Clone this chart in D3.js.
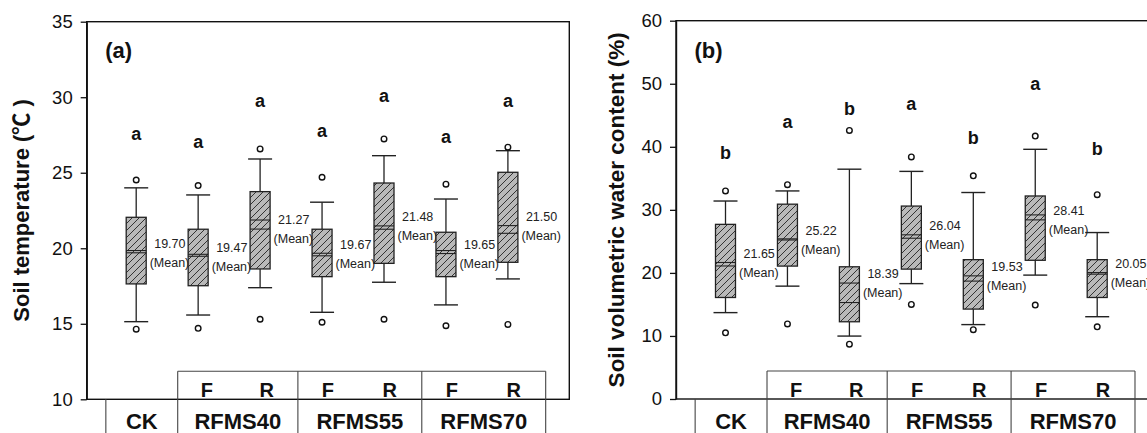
<!DOCTYPE html>
<html>
<head>
<meta charset="utf-8">
<script src="https://cdn.jsdelivr.net/npm/d3@7"></script>
<style>
  html, body { margin: 0; padding: 0; background: #fff; }
  svg { display: block; }
</style>
</head>
<body>
<svg id="chart" width="1147" height="433"></svg>
<script>
// ---- categories ----
const groups = ["CK", "F40", "R40", "F55", "R55", "F70", "R70"];
const treatments = ["CK", "RFMS40", "RFMS55", "RFMS70"];
const sides = ["F", "R"];

// ---- (a) soil temperature (°C) ----
const tempWhiskerLow  = [15.14, 15.58, 17.39, 15.76, 17.75, 16.25, 17.97];
const tempQ1          = [17.64, 17.52, 18.63, 18.12, 19.00, 18.12, 19.07];
const tempMedian      = [19.85, 19.60, 21.87, 19.50, 21.26, 19.85, 20.99];
const tempMean        = [19.70, 19.47, 21.27, 19.67, 21.48, 19.65, 21.50];
const tempQ3          = [22.05, 21.26, 23.75, 21.26, 24.32, 21.06, 25.03];
const tempWhiskerHigh = [24.00, 23.53, 25.91, 23.05, 26.13, 23.26, 26.46];
const tempOutlierLow  = [14.64, 14.70, 15.30, 15.10, 15.30, 14.87, 14.96];
const tempOutlierHigh = [24.52, 24.15, 26.58, 24.70, 27.24, 24.24, 26.69];
const tempLetters     = ["a", "a", "a", "a", "a", "a", "a"];
const tempLetterAt    = [27.5, 27.0, 29.7, 27.7, 30.0, 27.3, 29.7];
const tempTicks       = [10, 15, 20, 25, 30, 35];

// ---- (b) soil volumetric water content (%) ----
const swcWhiskerLow  = [13.7, 17.9, 9.98, 18.3, 11.8, 19.65, 13.05];
const swcQ1          = [16.1, 21.08, 12.25, 20.6, 14.26, 22.0, 16.1];
const swcMedian      = [21.1, 25.4, 15.3, 25.5, 18.7, 29.2, 19.8];
const swcMean        = [21.65, 25.22, 18.39, 26.04, 19.53, 28.41, 20.05];
const swcQ3          = [27.7, 30.9, 20.97, 30.6, 22.1, 32.2, 22.1];
const swcWhiskerHigh = [31.4, 33.0, 36.45, 36.1, 32.75, 39.6, 26.4];
const swcOutlierLow  = [10.5, 11.9, 8.7, 15.0, 11.0, 14.9, 11.45];
const swcOutlierHigh = [33.0, 34.0, 42.6, 38.4, 35.4, 41.7, 32.4];
const swcLetters     = ["b", "a", "b", "a", "b", "a", "b"];
const swcLetterAt    = [38.9, 43.7, 45.8, 46.7, 41.3, 49.8, 39.5];
const swcTicks       = [0, 10, 20, 30, 40, 50, 60];

const FONT = "'Liberation Sans', Arial, Helvetica, sans-serif";
const svg = d3.select("#chart");

// diagonal hatch fill for the boxes
const defs = svg.append("defs");
const pat = defs.append("pattern")
  .attr("id", "hatch")
  .attr("patternUnits", "userSpaceOnUse")
  .attr("width", 7).attr("height", 7);
pat.append("rect").attr("width", 7).attr("height", 7).attr("fill", "#b9b9b9");
pat.append("path")
  .attr("d", "M0,7 L7,0 M-2,2 L2,-2 M5,9 L9,5")
  .attr("stroke", "#333").attr("stroke-width", 1);

function drawPanel(cfg) {
  const g = svg.append("g");
  const frameW = 482.6;
  const x0 = cfg.x0;

  const y = d3.scaleLinear().domain(cfg.domain).range([cfg.yBottom, cfg.yTop]);
  const x = d3.scalePoint().domain(groups).range([x0 + 49.5, x0 + 49.5 + 6 * 61.95]);
  const step = x.step();

  // frame
  g.append("rect")
    .attr("x", x0).attr("y", cfg.yTop)
    .attr("width", frameW).attr("height", cfg.yBottom - cfg.yTop)
    .attr("fill", "none").attr("stroke", "#111").attr("stroke-width", 1.4);

  // y axis
  const ax = g.append("g")
    .attr("transform", `translate(${x0},0)`)
    .call(d3.axisLeft(y).tickValues(cfg.ticks).tickSize(6).tickSizeOuter(0).tickPadding(8));
  ax.select(".domain").attr("stroke", "#111").attr("stroke-width", 1.4);
  ax.selectAll(".tick line").attr("stroke", "#111").attr("stroke-width", 1.3);
  ax.selectAll(".tick text")
    .attr("font-family", FONT).attr("font-size", 18.5).attr("fill", "#111");

  // y axis title
  g.append("text")
    .attr("transform", `translate(${cfg.titleX},${(cfg.yTop + cfg.yBottom) / 2}) rotate(-90)`)
    .attr("text-anchor", "middle")
    .attr("font-family", "'Liberation Sans', Arial, 'Noto Sans CJK SC', sans-serif")
    .attr("font-weight", "bold")
    .attr("font-size", cfg.titleSize)
    .attr("fill", "#111")
    .text(cfg.title);

  // panel tag
  g.append("text")
    .attr("x", x0 + 18.5).attr("y", 57.5)
    .attr("font-family", FONT).attr("font-weight", "bold").attr("font-size", 22)
    .attr("fill", "#111")
    .text(cfg.tag);

  const boxW = 20, capW = 24;
  const d = cfg.data;

  groups.forEach((key, i) => {
    const cx = x(key);
    const bg = g.append("g");

    // whiskers
    bg.append("line")
      .attr("x1", cx).attr("x2", cx)
      .attr("y1", y(d.whiskerHigh[i])).attr("y2", y(d.q3[i]))
      .attr("stroke", "#222").attr("stroke-width", 1.3);
    bg.append("line")
      .attr("x1", cx).attr("x2", cx)
      .attr("y1", y(d.q1[i])).attr("y2", y(d.whiskerLow[i]))
      .attr("stroke", "#222").attr("stroke-width", 1.3);
    [d.whiskerHigh[i], d.whiskerLow[i]].forEach(v => {
      bg.append("line")
        .attr("x1", cx - capW / 2).attr("x2", cx + capW / 2)
        .attr("y1", y(v)).attr("y2", y(v))
        .attr("stroke", "#222").attr("stroke-width", 1.4);
    });

    // box
    bg.append("rect")
      .attr("x", cx - boxW / 2).attr("y", y(d.q3[i]))
      .attr("width", boxW).attr("height", y(d.q1[i]) - y(d.q3[i]))
      .attr("fill", "url(#hatch)").attr("stroke", "#222").attr("stroke-width", 1.3);

    // median and mean lines
    [d.median[i], d.mean[i]].forEach(v => {
      bg.append("line")
        .attr("x1", cx - boxW / 2).attr("x2", cx + boxW / 2)
        .attr("y1", y(v)).attr("y2", y(v))
        .attr("stroke", "#222").attr("stroke-width", 1.1);
    });

    // outliers
    [d.outHigh[i], d.outLow[i]].forEach(v => {
      bg.append("circle")
        .attr("cx", cx).attr("cy", y(v)).attr("r", 2.8)
        .attr("fill", "#fff").attr("stroke", "#111").attr("stroke-width", 1.4);
    });

    // significance letter
    bg.append("text")
      .attr("x", cx).attr("y", y(d.letterAt[i]) + 5)
      .attr("text-anchor", "middle")
      .attr("font-family", FONT).attr("font-weight", "bold").attr("font-size", 18)
      .attr("fill", "#111")
      .text(d.letters[i]);

    // mean annotation
    const my = y(d.mean[i]);
    bg.append("text")
      .attr("x", cx + boxW / 2 + 8).attr("y", my - 9)
      .attr("dy", "0.35em")
      .attr("font-family", FONT).attr("font-size", 12.5).attr("fill", "#222")
      .text(d.mean[i].toFixed(2));
    bg.append("text")
      .attr("x", cx + boxW / 2 + 3.5).attr("y", my + 10)
      .attr("dy", "0.35em")
      .attr("font-family", FONT).attr("font-size", 12.5).attr("fill", "#222")
      .text("(Mean)");
  });

  // category table under the boxes (edges in units of the point step, from CK)
  const edgeSteps = [-0.49, 0.67, 2.61, 4.61, 6.61];
  const ex = edgeSteps.map(s => x("CK") + s * step);
  const rowTop = cfg.yBottom - 28;
  const lineStyle = sel => sel.attr("stroke", "#444").attr("stroke-width", 1.1);

  g.append("line").attr("x1", ex[1]).attr("x2", ex[4])
    .attr("y1", rowTop).attr("y2", rowTop).call(lineStyle);
  g.append("line").attr("x1", ex[0]).attr("x2", ex[0])
    .attr("y1", cfg.yBottom).attr("y2", 440).call(lineStyle);
  ex.slice(1).forEach(v => {
    g.append("line").attr("x1", v).attr("x2", v)
      .attr("y1", rowTop).attr("y2", 440).call(lineStyle);
  });

  // F / R labels inside each treatment cell
  for (let t = 1; t < treatments.length; t++) {
    const left = ex[t], right = ex[t + 1], half = (right - left) / 2;
    sides.forEach((s, k) => {
      g.append("text")
        .attr("x", left + half * k + half / 2 - 1).attr("y", cfg.yBottom - 2.5)
        .attr("text-anchor", "middle")
        .attr("font-family", FONT).attr("font-weight", "bold").attr("font-size", 20)
        .attr("fill", "#111")
        .text(s);
    });
  }
  // treatment names
  treatments.forEach((name, t) => {
    g.append("text")
      .attr("x", (ex[t] + ex[t + 1]) / 2).attr("y", 428.5)
      .attr("text-anchor", "middle")
      .attr("font-family", FONT).attr("font-weight", "bold").attr("font-size", 22)
      .attr("fill", "#111")
      .text(name);
  });
}

drawPanel({
  x0: 86.7, yTop: 21.7, yBottom: 399.3,
  domain: [10, 35], ticks: tempTicks,
  title: "Soil temperature (℃ )", titleX: 29, titleSize: 22,
  tag: "(a)",
  data: {
    whiskerLow: tempWhiskerLow, q1: tempQ1, median: tempMedian, mean: tempMean,
    q3: tempQ3, whiskerHigh: tempWhiskerHigh, outLow: tempOutlierLow,
    outHigh: tempOutlierHigh, letters: tempLetters, letterAt: tempLetterAt
  }
});

drawPanel({
  x0: 676, yTop: 20.7, yBottom: 399,
  domain: [0, 60], ticks: swcTicks,
  title: "Soil volumetric water content (%)", titleX: 624, titleSize: 22.5,
  tag: "(b)",
  data: {
    whiskerLow: swcWhiskerLow, q1: swcQ1, median: swcMedian, mean: swcMean,
    q3: swcQ3, whiskerHigh: swcWhiskerHigh, outLow: swcOutlierLow,
    outHigh: swcOutlierHigh, letters: swcLetters, letterAt: swcLetterAt
  }
});
</script>
</body>
</html>
